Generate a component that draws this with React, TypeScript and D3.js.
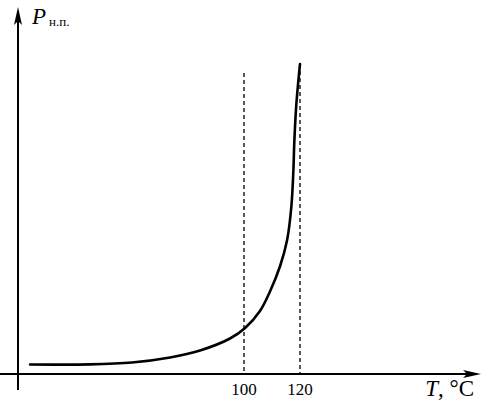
import React from "react";
import * as d3 from "d3";

const tempValues = [23.6, 45, 60, 73.6, 84.3, 95, 100.4, 105.7, 109.2, 112.9, 115.4, 116.9, 117.6, 118.0, 118.7, 120];
const pressureValues = [9.5, 9.6, 11.5, 16.5, 23.5, 35.5, 46, 63, 82, 108, 134, 167, 201, 234, 270, 310];
const tickValues = [100, 120];
const tickLabels = ["100", "120"];
const dashTopValues = [301, 310];

const W = 489;
const H = 402;

export default function App() {
  const x = d3.scaleLinear().domain([100, 120]).range([244, 300]);
  const y = d3.scaleLinear().domain([0, 100]).range([374, 274]);
  const pts: [number, number][] = tempValues.map((t, i) => [x(t), y(pressureValues[i])]);
  const line = d3.line().curve(d3.curveCatmullRom.alpha(0.5))(pts) || "";
  const x0 = 18;
  const y0 = y(0);
  const font = "'Liberation Serif', 'Times New Roman', serif";
  return (
    <svg width={W} height={H} style={{ position: "absolute", left: 0, top: 0, background: "#fff" }}>
      {/* x axis */}
      <line x1={0} y1={y0} x2={472} y2={y0} stroke="#000" strokeWidth={2} />
      <path d={`M481,${y0} L463,${y0 - 4} L467,${y0} L463,${y0 + 4} Z`} fill="#000" />
      {/* y axis */}
      <line x1={x0} y1={390} x2={x0} y2={16} stroke="#000" strokeWidth={2} />
      <path d={`M${x0},7 L${x0 - 4},25 L${x0},21 L${x0 + 4},25 Z`} fill="#000" />
      {/* dashed lines */}
      {tickValues.map((t, i) => (
        <line key={t} x1={x(t)} x2={x(t)} y1={y(dashTopValues[i])} y2={y0} stroke="#000" strokeWidth={1.3} strokeDasharray="4,3" />
      ))}
      {/* curve */}
      <path d={line} fill="none" stroke="#000" strokeWidth={2.6} strokeLinecap="round" />
      {/* tick labels */}
      {tickValues.map((t, i) => (
        <text key={t} x={x(t)} y={395} textAnchor="middle" fontFamily={font} fontSize={17}>{tickLabels[i]}</text>
      ))}
      {/* axis labels */}
      <text x={474} y={396} textAnchor="end" fontFamily={font} fontSize={23}>
        <tspan fontStyle="italic">T</tspan>, °C
      </text>
      <text x={32} y={24} fontFamily={font} fontSize={23}>
        <tspan fontStyle="italic">P</tspan>
        <tspan fontSize={13} dx={3} dy={2}>н.п.</tspan>
      </text>
    </svg>
  );
}
